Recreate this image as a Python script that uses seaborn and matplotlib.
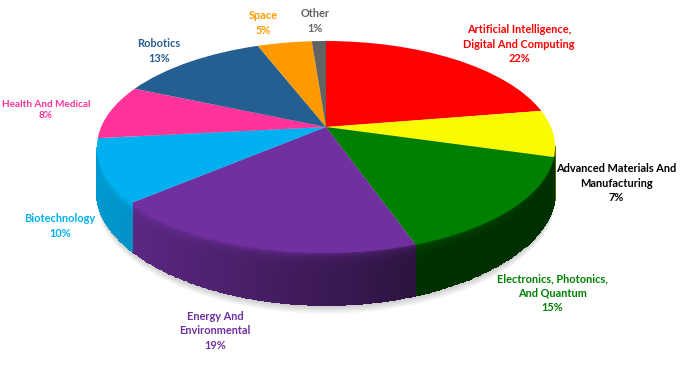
import numpy as np
import seaborn as sns
import matplotlib.pyplot as plt
from matplotlib.path import Path
from matplotlib.transforms import Transform

names = ['Artificial Intelligence,\nDigital And Computing', 'Advanced Materials And\nManufacturing',
         'Electronics, Photonics,\nAnd Quantum', 'Energy And\nEnvironmental', 'Biotechnology',
         'Health And Medical', 'Robotics', 'Space', 'Other']
shares = [22.4, 7.1, 15.2, 19.0, 9.6, 8.3, 12.6, 4.6, 1.2]
slice_colors = ['#FF0000', '#FAFA00', '#008000', '#7030A0', '#00B0F0', '#FF3399', '#255E91', '#FF9900', '#636363']
label_colors = ['#FF0000', '#000000', '#008000', '#7030A0', '#00B0F0', '#FF3399', '#255E91', '#FF9900', '#636363']
label_pos = [(519, 44), (616, 183), (552, 293), (215, 331), (60, 226), (46, 110), (159, 51), (263, 23), (315, 21)]
label_sizes = [7.9, 7.9, 7.9, 7.9, 7.9, 7.2, 7.9, 7.9, 7.9]

sns.set_theme(style='white')
plt.rcParams['font.family'] = ['Lato', 'DejaVu Sans']

CX, CY = 326, 127
K, A, B = 0.1887, 102.2, 224.9


# tilted view of the unit circle, with perspective
class Tilt(Transform):
    input_dims = output_dims = 2

    def transform_non_affine(self, values):
        x, y = np.asarray(values).T
        d = 1 + K * y
        return np.column_stack([CX + B * x / d, CY - A * y / d])

    def transform_path_non_affine(self, path):
        return Path(self.transform_non_affine(path.vertices), path.codes)


# wall height, a bit taller towards the viewer
def wall(y):
    return 46 + 6 * (np.clip(y - 147, 0, None) / 106) ** 2


tilt = Tilt()
fig = plt.figure(figsize=(6.8, 3.74), dpi=100)
ax = fig.add_axes([0, 0, 1, 1])

wedges, _ = ax.pie(shares, colors=sns.color_palette(slice_colors), startangle=90, counterclock=False)
ax.set_aspect('auto')
ax.set_xlim(0, 680)
ax.set_ylim(374, 0)
ax.axis('off')
for w in wedges:
    w.set_transform(tilt + ax.transData)
    w.set_zorder(5)
    w.set_linewidth(0)

# soft shadow under the pie
t = np.radians(np.linspace(0, 360, 300))
rim = tilt.transform_non_affine(np.column_stack([np.cos(t), np.sin(t)]))
for off in range(1, 10):
    ax.fill(rim[:, 0], rim[:, 1] + wall(rim[:, 1]) + off, color='black', alpha=0.022, lw=0, zorder=1)

# side wall, shaded from left to right
steps = np.linspace(0, 1, 25)
for w, col in zip(wedges, slice_colors):
    t1, t2 = max(w.theta1, -169.1), min(w.theta2, -10.9)
    if t1 >= t2:
        continue
    ang = np.radians(np.linspace(t1, t2, max(int((t2 - t1) * 2), 2)))
    edge = tilt.transform_non_affine(np.column_stack([np.cos(ang), np.sin(ang)]))
    X = np.tile(edge[:, 0], (len(steps), 1))
    Y = edge[:, 1] + steps[:, None] * wall(edge[:, 1])
    xm = (X[:-1, :-1] + X[1:, 1:]) / 2
    dm = ((Y[:-1, :-1] + Y[1:, 1:]) / 2 - (edge[:-1, 1] + edge[1:, 1])[None, :] / 2)
    u = (xm - 97) / 458
    shade = np.maximum(0.87 - 0.68 * u, 0.37)
    glow = (1.12 - shade) * np.exp(-dm / 4) * (1 - 0.8 * u)
    base = np.array(sns.color_palette([col])[0])
    rgb = np.clip((shade + glow)[..., None] * base, 0, 1)
    ax.pcolormesh(X, Y, rgb, shading='flat', edgecolors='face', linewidth=0.3, zorder=3)

for name, share, col, size, (x, y) in zip(names, shares, label_colors, label_sizes, label_pos):
    ax.text(x, y, f'{name}\n{share:.0f}%', color=col, ha='center', va='center',
            fontsize=size, fontweight='bold', linespacing=1.35, zorder=6)

fig.savefig('out.png', dpi=100)
